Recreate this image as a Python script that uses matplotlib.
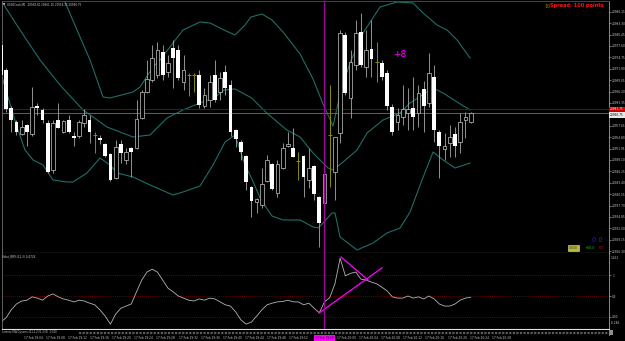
import matplotlib
matplotlib.use("Agg")
import matplotlib.pyplot as plt
from matplotlib.transforms import blended_transform_factory

# US30Cash M1, bars (index 0 = leftmost, partly cut bar)
opens = [20977.85, 20971.60, 20962.10, 20958.60, 20955.60, 20957.85, 20955.60, 20962.60, 20961.60, 20958.35,
         20946.60, 20959.10, 20956.10, 20959.10, 20955.10, 20955.10, 20958.35, 20959.10, 20955.35, 20954.60,
         20953.10, 20950.60, 20944.60, 20953.10, 20949.10, 20952.10, 20952.10, 20959.60, 20966.10, 20969.10,
         20970.35, 20976.10, 20971.10, 20977.10, 20976.60, 20968.60, 20970.35, 20970.35, 20970.35, 20962.60,
         20964.10, 20970.35, 20966.10, 20971.10, 20967.85, 20956.60, 20953.60, 20950.10, 20942.35, 20938.60,
         20937.85, 20943.85, 20948.10, 20940.85, 20947.10, 20952.60, 20952.10, 20948.85, 20950.10, 20944.10,
         20947.60, 20939.85, 20938.35, 20955.35, 20946.10, 20955.85, 20980.35, 20964.60, 20972.85, 20981.10,
         20972.35, 20976.85, 20973.60, 20973.35, 20970.85, 20962.35, 20958.60, 20959.85, 20960.85, 20962.10,
         20960.85, 20966.85, 20963.35, 20969.85, 20956.10, 20951.85, 20953.35, 20955.60, 20953.60, 20959.10,
         20958.60]
highs = [20979.10, 20972.10, 20962.60, 20959.10, 20959.10, 20958.10, 20967.35, 20963.35, 20962.10, 20959.10,
         20959.10, 20963.35, 20959.10, 20960.35, 20956.10, 20959.10, 20961.85, 20960.35, 20956.10, 20955.35,
         20953.35, 20950.85, 20954.10, 20954.10, 20952.10, 20952.35, 20964.10, 20966.60, 20974.10, 20977.85,
         20978.60, 20977.85, 20975.35, 20979.10, 20977.85, 20975.35, 20970.85, 20970.85, 20971.60, 20967.10,
         20970.35, 20974.10, 20971.10, 20972.85, 20969.10, 20956.85, 20954.10, 20950.35, 20942.60, 20939.60,
         20947.10, 20950.35, 20948.35, 20949.10, 20953.35, 20956.10, 20957.10, 20951.10, 20950.35, 20952.10,
         20947.85, 20940.10, 20945.85, 20967.85, 20954.85, 20981.60, 20981.10, 20976.60, 20984.10, 20985.85,
         20981.60, 20984.10, 20978.60, 20974.10, 20971.60, 20963.10, 20962.10, 20967.85, 20967.10, 20969.85,
         20967.85, 20968.85, 20975.85, 20972.85, 20956.60, 20955.85, 20957.85, 20957.35, 20960.85, 20961.10,
         20961.10]
lows = [20969.60, 20961.10, 20956.10, 20955.35, 20955.35, 20952.60, 20955.10, 20960.35, 20958.35, 20945.85,
        20945.85, 20957.10, 20955.85, 20955.85, 20952.60, 20954.60, 20957.35, 20953.35, 20950.85, 20953.10,
        20949.85, 20943.85, 20944.35, 20948.35, 20948.10, 20944.85, 20951.85, 20959.35, 20965.85, 20968.60,
        20969.60, 20969.10, 20969.85, 20967.10, 20969.10, 20966.60, 20965.10, 20966.10, 20962.10, 20962.10,
        20962.35, 20963.60, 20964.10, 20965.35, 20955.10, 20952.35, 20949.10, 20941.60, 20934.85, 20935.85,
        20937.10, 20943.60, 20941.60, 20939.85, 20946.85, 20952.35, 20949.85, 20944.10, 20939.85, 20942.10,
        20939.10, 20927.35, 20937.85, 20942.35, 20939.10, 20953.35, 20965.35, 20959.60, 20971.60, 20972.35,
        20969.85, 20969.85, 20968.60, 20969.10, 20961.60, 20955.35, 20956.60, 20957.85, 20956.60, 20956.60,
        20957.35, 20956.10, 20962.35, 20953.60, 20944.60, 20949.10, 20949.85, 20949.85, 20950.85, 20954.60,
        20958.35]
closes = [20970.35, 20961.85, 20959.10, 20956.10, 20957.35, 20956.10, 20962.35, 20962.10, 20959.10, 20946.10,
          20958.35, 20957.10, 20958.85, 20956.10, 20954.60, 20958.60, 20960.35, 20956.10, 20955.35, 20954.10,
          20950.10, 20944.10, 20952.35, 20950.85, 20951.10, 20951.10, 20959.35, 20966.10, 20969.35, 20974.60,
          20976.60, 20970.35, 20973.35, 20974.60, 20969.60, 20971.60, 20970.35, 20970.35, 20962.85, 20965.35,
          20968.60, 20964.10, 20969.60, 20967.10, 20956.10, 20954.35, 20951.10, 20943.60, 20938.85, 20939.35,
          20943.10, 20949.10, 20941.85, 20948.10, 20952.10, 20953.10, 20949.85, 20948.85, 20944.85, 20947.10,
          20940.60, 20933.35, 20945.60, 20955.35, 20954.85, 20980.85, 20965.85, 20973.60, 20980.85, 20972.85,
          20976.60, 20974.35, 20973.60, 20969.85, 20962.60, 20956.10, 20960.35, 20961.85, 20961.85, 20959.85,
          20965.85, 20962.60, 20970.85, 20956.60, 20952.60, 20952.60, 20954.85, 20952.60, 20958.60, 20959.85,
          20960.75]
olive_bars = [18, 36, 37, 57, 63, 72]   # bars drawn in olive by some overlay

# Bollinger bands, points (bar index, price)
upper_x = [0, 6, 10, 12.30, 14.60, 17.09, 19.58, 20.92, 25.33, 26.67, 29.16, 30.50, 34.90, 38.16,
           40.08, 42.76, 44.87, 46.78, 47.92, 50.04, 51.95, 54.06, 57.32, 59.81, 61.72, 63.64, 65.17,
           66.90, 69.39, 72.64, 75.90, 78.97, 80.88, 83.56, 85.48, 87.39, 89.89]
upper_p = [21006.0, 21003.0, 20995.0, 20988.60, 20981.60, 20974.10, 20964.85, 20964.60, 20966.10,
           20967.35, 20972.35, 20974.10, 20981.60, 20983.60, 20983.35, 20981.60, 20980.35, 20982.85,
           20984.85, 20985.60, 20984.10, 20981.10, 20975.60, 20969.35, 20963.10, 20957.60, 20966.60,
           20973.35, 20980.85, 20987.35, 20988.60, 20988.35, 20985.85, 20982.85, 20981.60, 20979.10,
           20974.60]
mid_x = [0.23, 3.68, 7.51, 11.34, 15.75, 20.34, 25.33, 28.58, 31.84, 34.90, 38.16, 40.84, 42.76, 44.87,
         48.07, 50.94, 54.77, 57.32, 59.81, 62.68, 63.64, 65.56, 68.24, 70.15, 73.22, 76.48, 78.39,
         82.80, 84.71, 87.39, 89.89]
mid_p = [20988.60, 20981.60, 20974.10, 20967.85, 20961.60, 20957.35, 20954.85, 20955.35, 20959.60,
         20961.60, 20963.35, 20964.60, 20966.60, 20966.85, 20964.60, 20960.85, 20956.60, 20954.85,
         20950.85, 20947.10, 20946.60, 20948.60, 20951.60, 20955.85, 20959.10, 20960.85, 20963.35,
         20967.10, 20965.85, 20963.60, 20961.60]
lower_x = [0.0, 3.10, 4.64, 6.17, 8.08, 10.00, 12.68, 13.83, 16.51, 19.00, 20.92, 22.26, 25.33, 28.58,
           32.99, 34.90, 38.16, 40.65, 42.95, 44.87, 45.82, 46.78, 47.92, 49.85, 51.95, 54.06, 57.32,
           59.81, 60.77, 61.72, 63.45, 64.02, 64.98, 68.24, 71.30, 73.98, 76.48, 78.39, 80.69, 82.80,
           84.71, 87.01, 89.89]
lower_p = [20970.85, 20957.35, 20951.60, 20949.10, 20947.85, 20944.10, 20943.60, 20943.60, 20945.85,
           20949.60, 20947.85, 20945.85, 20944.85, 20942.85, 20940.35, 20941.10, 20942.60, 20947.85,
           20953.60, 20955.35, 20951.60, 20947.85, 20944.85, 20939.10, 20935.10, 20934.10, 20934.10,
           20932.35, 20932.10, 20933.35, 20935.85, 20935.85, 20929.85, 20926.60, 20928.35, 20930.85,
           20932.10, 20936.10, 20944.10, 20951.10, 20949.10, 20947.10, 20948.35]

# %B indicator, one value per bar
pctb = [-0.12, -0.02, 0.17, 0.31, 0.38, 0.40, 0.48, 0.45, 0.40, 0.50,
        0.55, 0.48, 0.43, 0.40, 0.36, 0.40, 0.38, 0.33, 0.29, 0.17,
        0.02, -0.17, 0.07, 0.21, 0.26, 0.31, 0.60, 0.88, 1.07, 1.14,
        1.07, 0.88, 0.69, 0.60, 0.50, 0.45, 0.40, 0.38, 0.43, 0.40,
        0.45, 0.43, 0.36, 0.29, 0.26, 0.12, -0.07, -0.17, -0.12, 0.02,
        0.17, 0.29, 0.33, 0.36, 0.37, 0.40, 0.36, 0.36, 0.29, 0.33,
        0.21, 0.10, 0.36, 0.46, 0.79, 1.40, 0.98, 1.04, 1.07, 0.90,
        0.88, 0.83, 0.79, 0.71, 0.62, 0.48, 0.45, 0.45, 0.50, 0.45,
        0.48, 0.43, 0.50, 0.43, 0.31, 0.26, 0.26, 0.31, 0.40, 0.45,
        0.47]
trend_a_x, trend_a_v = [60.96, 73.03], [0.095, 1.17]
trend_b_x, trend_b_v = [65.17, 70.34], [1.43, 0.88]
vline_bar = 62
marker_bar, marker_price = 75.1, 20975.35   # the "+8" note

ask_price = 20961.75
bid_price = 20960.75
price_ticks = [20986.15, 20983.30, 20980.45, 20977.60, 20974.75, 20971.90, 20969.05, 20966.20,
               20963.35, 20957.65, 20954.80, 20951.95, 20949.10, 20946.25, 20943.40, 20940.55,
               20937.70, 20934.85, 20932.00, 20929.15, 20926.30]
time_labels = ["17 Feb 2019"] + ["17 Feb 19:%02d" % m for m in range(4, 56, 4)] + \
              ["17 Feb 20:%02d" % m for m in range(0, 32, 4)]
time_bars = [0.17 + 4.234 * k for k in range(14)] + [64.4 + 4.234 * k for k in range(8)]

W, H = 625, 341
BG = "black"
FG = "#c8c8c8"
WICK = "#a8a8a8"
EDGE = "#c8c8c8"
OLIVE = "#8c8c00"
TEAL = "#1f6e68"


def rect(x0, y0, x1, y1):
    # pixel box (top-left origin) -> figure fraction
    return [x0 / W, 1 - y1 / H, (x1 - x0) / W, (y1 - y0) / H]


def fxy(x, y):
    return x / W, 1 - y / H


fig = plt.figure(figsize=(W / 100, H / 100), dpi=100, facecolor=BG)
ax = fig.add_axes(rect(2, 1, 609, 253.3), facecolor=BG)
ai = fig.add_axes(rect(2, 253.3, 609, 329.3), facecolor=BG, sharex=ax)
at = fig.add_axes(rect(2, 330, 609, 335), facecolor=BG, sharex=ax)

xmin, xmax = 0.23, 116.5

# ---- main panel ----
ax.plot(upper_x, upper_p, color=TEAL, lw=0.8, zorder=1)
ax.plot(mid_x, mid_p, color=TEAL, lw=0.8, zorder=1)
ax.plot(lower_x, lower_p, color=TEAL, lw=0.8, zorder=1)

body_w = 0.72
for i in range(len(opens)):
    o, h, l, c = opens[i], highs[i], lows[i], closes[i]
    if i in olive_bars:
        ax.vlines(i, l, h, color=OLIVE, lw=0.7, zorder=2)
        ax.hlines(o, i - 0.4, i + 0.4, color=OLIVE, lw=0.7, zorder=3)
        continue
    ax.vlines(i, l, h, color=WICK, lw=0.6, zorder=2)
    bottom = min(o, c)
    height = max(abs(c - o), 0.35)
    if c < o:
        ax.bar(i, height, body_w, bottom, color="white", lw=0, zorder=3)
    else:
        ax.bar(i, height, body_w, bottom, facecolor=BG, edgecolor=EDGE, lw=0.5, zorder=3)

ax.axhline(ask_price, color="#8a0000", lw=0.7, zorder=1)
ax.axhline(bid_price, color="#606060", lw=0.7, zorder=1)
ax.axvline(vline_bar, color="#a400a4", lw=0.8, zorder=4)

ax.set_xlim(xmin, xmax)
ax.set_ylim(20925.77, 20988.85)
ax.yaxis.tick_right()
ax.set_yticks(price_ticks)
ax.set_yticklabels(["%.2f" % p for p in price_ticks])
ax.tick_params(axis="y", colors=FG, labelsize=2.1, length=1.5, width=0.4, pad=0.8)
ax.tick_params(axis="x", bottom=False, labelbottom=False)
for s, col in [("left", "#707070"), ("right", "#a0a0a0"), ("top", "#505050"), ("bottom", "#e0e0e0")]:
    ax.spines[s].set_color(col)
    ax.spines[s].set_linewidth(0.8 if s == "bottom" else 0.6)

tr = blended_transform_factory(ax.transAxes, ax.transData)
ax.text(1.002, ask_price, "20961.75", transform=tr, fontsize=2.1, color="white", va="center",
        ha="left", bbox=dict(boxstyle="square,pad=0.25", fc="#cc0000", ec="none"), clip_on=False)
ax.text(1.002, bid_price - 0.45, "20960.75", transform=tr, fontsize=2.1, color="black", va="center",
        ha="left", bbox=dict(boxstyle="square,pad=0.25", fc="#e8e8e8", ec="none"), clip_on=False)

ax.text(marker_bar, marker_price, "+8", color="#ff00ff", fontsize=6.5, va="center", ha="left", zorder=5)

# ---- %B panel ----
for lvl in [1, 0.5, 0]:
    ai.axhline(lvl, color="#8a0000", lw=0.6, ls=(0, (1, 1.5)), zorder=1)
ai.plot(range(len(pctb)), pctb, color="#b4b4b4", lw=0.6, zorder=2)
ai.plot(trend_a_x, trend_a_v, color="#ff00ff", lw=0.9, zorder=3)
ai.plot(trend_b_x, trend_b_v, color="#ff00ff", lw=0.9, zorder=3)
ai.axvline(vline_bar, color="#a400a4", lw=0.8, zorder=4)
ai.set_ylim(-0.293, 1.517)
ai.yaxis.tick_right()
ai.set_yticks([1, 0.5, 0])
ai.set_yticklabels(["1", "0.5", "0.00"])
ai.tick_params(axis="y", colors=FG, labelsize=2.1, length=1.5, width=0.4, pad=0.8)
ai.tick_params(axis="x", bottom=False, labelbottom=False)
ai.spines["top"].set_visible(False)
ai.spines["bottom"].set_color("#e0e0e0")
ai.spines["bottom"].set_linewidth(0.8)
ai.spines["left"].set_color("#707070")
ai.spines["right"].set_color("#a0a0a0")
for s in ["left", "right"]:
    ai.spines[s].set_linewidth(0.6)
ai.text(1.003, 0.96, "1.452", transform=ai.transAxes, fontsize=2.1, color=FG, va="top", ha="left")
ai.text(1.003, 0.05, "-0.286", transform=ai.transAxes, fontsize=2.1, color=FG, va="bottom", ha="left")

# ---- thin bottom panel + time scale ----
at.hlines(0.5, 15, xmax, color="#5a5a5a", lw=1.6, ls=(0, (1, 0.6)))
at.set_ylim(0, 1)
at.set_yticks([])
for s in ["top", "left", "bottom"]:
    at.spines[s].set_visible(False)
at.spines["right"].set_color("#a0a0a0")
at.spines["right"].set_linewidth(0.6)
at.set_xticks(time_bars)
at.set_xticklabels(time_labels, ha="left")
at.tick_params(axis="x", colors=FG, labelsize=2.1, length=0, pad=0.6)
at.set_xlim(xmin, xmax)
trt = blended_transform_factory(at.transData, at.transAxes)
at.text(vline_bar, -0.55, "17 Feb 19:58", transform=trt, fontsize=2.1, color="#300030", ha="center",
        va="center", bbox=dict(boxstyle="square,pad=0.35", fc="#ff00ff", ec="none"), clip_on=False, zorder=6)
at.text(1.003, 0.5, "  ", transform=at.transAxes, fontsize=2.1, va="center", ha="left",
        bbox=dict(boxstyle="square,pad=0.2", fc="#909090", ec="none"), clip_on=False)

# ---- header texts ----
fig.text(*fxy(2.5, 4.5), "\u25bc", fontsize=2.2, color=FG, va="center", ha="left")
fig.text(*fxy(7, 4.5), "US30Cash,M1  20958.60 20961.10 20958.35 20960.75", fontsize=2.0,
         color=FG, va="center", ha="left")
fig.text(*fxy(544, 6), "10", fontsize=3.4, color=OLIVE, va="center", ha="left")
fig.text(*fxy(550, 6), "Spread: 100 points", fontsize=3.6, color="#ff1010", fontweight="bold",
         va="center", ha="left")
fig.text(*fxy(2.5, 256.8), "Volat_BB%(21,3) 0.4726", fontsize=2.0, color=FG, va="center", ha="left")
fig.text(*fxy(2.5, 332.5), "Lorentz FRA Dynamic(21,1,2)(1,3)(0) -0.000", fontsize=1.8, color=FG,
         va="center", ha="left")
fig.text(*fxy(592, 240), "0 0", fontsize=4.8, color="#1020ff", va="center", ha="left")
fig.text(*fxy(569, 248.3), "0.000", fontsize=2.2, color="#303000", va="center", ha="left",
         bbox=dict(boxstyle="square,pad=0.3", fc="#b8b840", ec="#e0e0a0", lw=0.4))
fig.text(*fxy(585, 248.3), "+00.0", fontsize=2.4, color="#10c010", va="center", ha="left")
fig.text(*fxy(599, 248.3), "0.0", fontsize=2.4, color="#c01010", va="center", ha="left")

fig.savefig("out.png", dpi=100, facecolor=BG)
